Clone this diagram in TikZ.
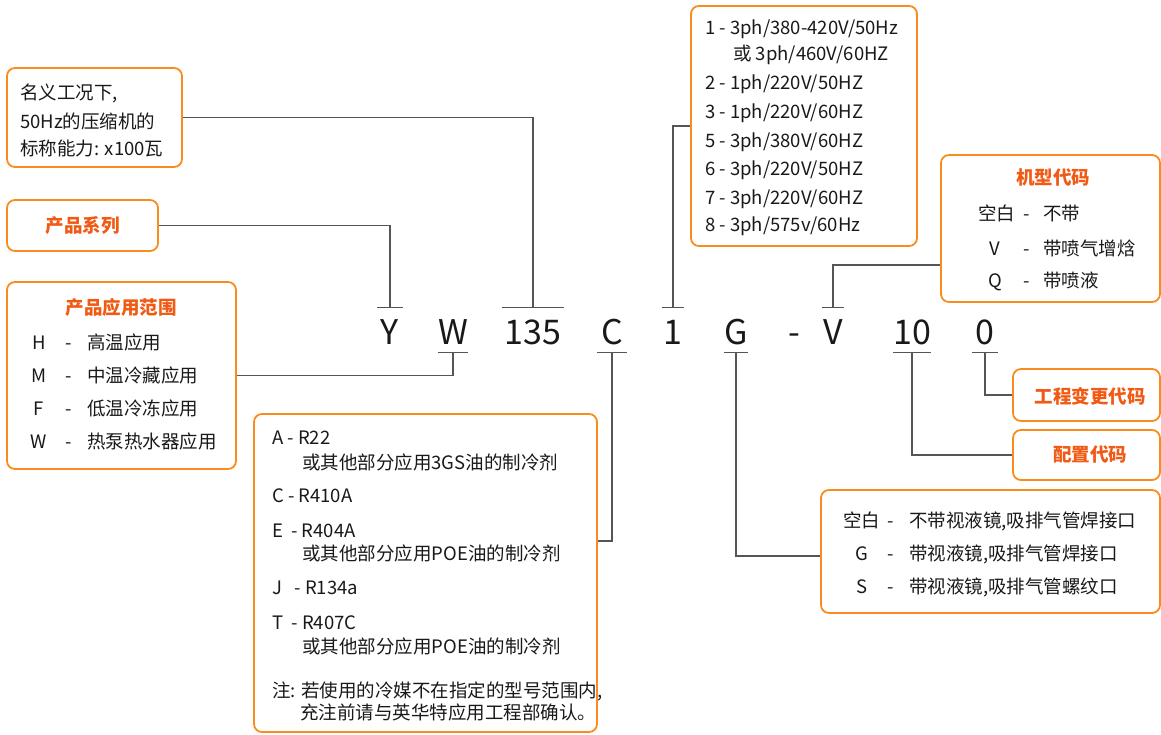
\documentclass[tikz,border=0pt]{standalone}
\usepackage{fontspec}
\setmainfont{Noto Sans CJK SC}
\usetikzlibrary{calc}
\definecolor{boxor}{RGB}{250,140,30}
\definecolor{titor}{RGB}{240,90,20}
\definecolor{lnkc}{RGB}{85,85,85}
\definecolor{ink}{RGB}{25,25,25}
\newcommand\tx[4]{\node[txt,anchor=base west] (#1) at (#2,#3) {#4};}
\newcommand\tc[4]{\node[txt,anchor=base] (#1) at (#2,#3) {#4};}
\begin{document}
\begin{tikzpicture}[x=1pt,y=-1pt,
 obox/.style={draw=boxor,line width=1.8pt,rounded corners=8pt,inner sep=0pt},
 ttl/.style={text=titor,font=\fontsize{18.5}{20}\selectfont\bfseries,inner sep=0pt},
 txt/.style={text=ink,font=\fontsize{18.5}{20}\selectfont,inner sep=0pt},
 code/.style={text=ink,font=\fontsize{34}{36}\selectfont,inner sep=0pt,text height=36pt,text depth=8pt,anchor=base},
 lnk/.style={draw=lnkc,line width=1.1pt}]
\useasboundingbox (0,0) rectangle (1161,734);

% boxes
\node[obox,minimum width=175pt,minimum height=99pt] (b1) at (94.5,117.5) {};
\node[obox,minimum width=151pt,minimum height=51pt] (b2) at (82.5,225.5) {};
\node[obox,minimum width=229pt,minimum height=187pt] (b3) at (121.5,375.5) {};
\node[obox,minimum width=226pt,minimum height=240pt] (b4) at (804,126) {};
\node[obox,minimum width=219pt,minimum height=147pt] (b5) at (1050.5,228.5) {};
\node[obox,minimum width=343pt,minimum height=318pt] (b6) at (425.5,573) {};
\node[obox,minimum width=339pt,minimum height=123pt] (b7) at (990.5,551.5) {};
\node[obox,minimum width=147pt,minimum height=52pt] (b8) at (1086.5,395) {};
\node[obox,minimum width=147pt,minimum height=50pt] (b9) at (1086.5,455) {};

% titles
\node[ttl] (t2) at (b2.center) {产品系列};
\node[ttl] (t3) at (121,307) {产品应用范围};
\node[ttl] (t5) at (1053,177) {机型代码};
\node[ttl] (t8) at (1090,396) {工程变更代码};
\node[ttl] (t9) at (1090,454) {配置代码};

% box 1
\tx{a1}{20}{99}{名义工况下,}
\tx{a2}{20}{128}{50Hz的压缩机的}
\tx{a3}{20}{155}{标称能力: x100瓦}

% box 3
\tc{h1}{39}{349}{H}\tc{h1d}{69}{349}{-}\tx{h1t}{87}{349}{高温应用}
\tc{h2}{39}{382}{M}\tc{h2d}{69}{382}{-}\tx{h2t}{87}{382}{中温冷藏应用}
\tc{h3}{39}{415}{F}\tc{h3d}{69}{415}{-}\tx{h3t}{87}{415}{低温冷冻应用}
\tc{h4}{39}{448}{W}\tc{h4d}{69}{448}{-}\tx{h4t}{87}{448}{热泵热水器应用}

% box 4
\tx{v1}{705}{34.5}{1 - 3ph/380-420V/50Hz}
\tx{v1b}{733}{60}{或 3ph/460V/60HZ}
\tx{v2}{705}{89.5}{2 - 1ph/220V/50HZ}
\tx{v3}{705}{118.5}{3 - 1ph/220V/60HZ}
\tx{v5}{705}{147}{5 - 3ph/380V/60HZ}
\tx{v6}{705}{175.5}{6 - 3ph/220V/50HZ}
\tx{v7}{705}{204}{7 - 3ph/220V/60HZ}
\tx{v8}{705}{231.5}{8 - 3ph/575v/60Hz}

% box 5
\tx{m1}{978}{220}{空白}\tc{m1d}{1027}{220}{-}\tx{m1t}{1043}{220}{不带}
\tc{m2}{995}{255}{V}\tc{m2d}{1027}{255}{-}\tx{m2t}{1043}{255}{带喷气增焓}
\tc{m3}{995}{287}{Q}\tc{m3d}{1027}{287}{-}\tx{m3t}{1043}{287}{带喷液}

% box 6
\tx{r1}{272}{444.5}{A - R22}
\tx{r1b}{302}{469}{或其他部分应用3GS油的制冷剂}
\tx{r2}{272}{502.5}{C - R410A}
\tx{r3}{272}{537.5}{E\ \ - R404A}
\tx{r3b}{302}{560}{或其他部分应用POE油的制冷剂}
\tx{r4}{272}{594.5}{J\ \ \ - R134a}
\tx{r5}{272}{629.5}{T\ \ - R407C}
\tx{r5b}{302}{653}{或其他部分应用POE油的制冷剂}
\tx{n1}{272}{697}{注: 若使用的冷媒不在指定的型号范围内,}
\tx{n2}{300}{719}{充注前请与英华特应用工程部确认。}

% box 7
\tx{s1}{843}{527}{空白}\tc{s1d}{891}{527}{-}\tx{s1t}{909}{527}{不带视液镜,吸排气管焊接口}
\tc{s2}{862}{560}{G}\tc{s2d}{891}{560}{-}\tx{s2t}{909}{560}{带视液镜,吸排气管焊接口}
\tc{s3}{862}{593}{S}\tc{s3d}{891}{593}{-}\tx{s3t}{909}{593}{带视液镜,吸排气管螺纹口}

% code row
\node[code,minimum width=25pt] (cY) at (390,344) {Y};
\node[code,minimum width=26pt] (cW) at (453,344) {W};
\node[code,minimum width=62pt] (c135) at (533,344) {135};
\node[code,minimum width=30pt] (cC) at (612,344) {C};
\node[code,minimum width=22pt] (c1) at (673,344) {1};
\node[code,minimum width=24pt] (cG) at (736,344) {G};
\node[code] (cD) at (794,344) {-};
\node[code,minimum width=21pt] (cV) at (833,344) {V};
\node[code,minimum width=25pt] (c10) at (912,344) {10};
\node[code,minimum width=25pt] (c0) at (985,344) {0};

% bars
\draw[lnk] (cY.north west) -- (cY.north east);
\draw[lnk] (c135.north west) -- (c135.north east);
\draw[lnk] (c1.north west) -- (c1.north east);
\draw[lnk] (cV.north west) -- (cV.north east);
\draw[lnk] (cW.south west) -- (cW.south east);
\draw[lnk] (cC.south west) -- (cC.south east);
\draw[lnk] (cG.south west) -- (cG.south east);
\draw[lnk] (c10.south west) -- (c10.south east);
\draw[lnk] (c0.south west) -- (c0.south east);

% connectors
\draw[lnk] (b1.east) -| (c135.north);
\draw[lnk] (b2.east) -| (cY.north);
\draw[lnk] (b3.east) -| (cW.south);
\draw[lnk] (b4.west) -| (c1.north);
\draw[lnk] ([yshift=-36.5pt]b5.west) -| (cV.north);
\draw[lnk] ([yshift=32pt]b6.east) -| (cC.south);
\draw[lnk] ([yshift=-4.5pt]b7.west) -| (cG.south);
\draw[lnk] (b8.west) -| (c0.south);
\draw[lnk] (b9.west) -| (c10.south);
\end{tikzpicture}
\end{document}
